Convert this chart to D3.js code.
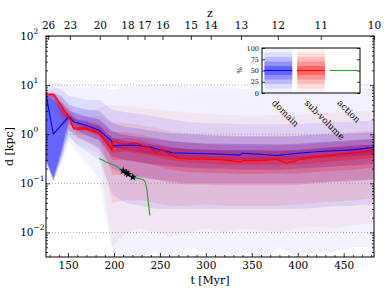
<!DOCTYPE html>
<html>
<head>
<meta charset="utf-8">
<script src="https://cdn.jsdelivr.net/npm/d3@7"></script>
<style>
body { margin: 0; background: #fff; }
svg text { font-family: "DejaVu Serif", serif; fill: #000; }
</style>
</head>
<body>
<div id="chart"></div>
<script>
'use strict';

// time grid of the percentile bands [Myr]
var bandTimes = [126, 134, 143, 151, 160, 170, 184, 198, 213, 228, 245, 262, 280, 300, 320, 340, 360, 380, 400, 420, 440, 460, 483];

// domain percentiles, d [kpc]
var domainP0   = [0.25, 0.1, 0.25, 0.7, 0.4, 0.25, 0.12, 0.004, 0.003, 0.003, 0.004, 0.002, 0.005, 0.004, 0.003, 0.004, 0.003, 0.005, 0.003, 0.004, 0.004, 0.005, 0.005];
var domainP10  = [0.27, 0.11, 0.3, 0.9, 0.6, 0.45, 0.3, 0.06, 0.04, 0.035, 0.03, 0.03, 0.03, 0.03, 0.03, 0.03, 0.03, 0.03, 0.03, 0.032, 0.034, 0.035, 0.038];
var domainP20  = [0.28, 0.115, 0.35, 1.2, 0.9, 0.7, 0.5, 0.2, 0.15, 0.13, 0.12, 0.11, 0.1, 0.1, 0.1, 0.1, 0.1, 0.1, 0.1, 0.105, 0.11, 0.115, 0.12];
var domainP30  = [0.3, 0.12, 0.4, 1.6, 1.2, 0.95, 0.75, 0.35, 0.3, 0.27, 0.24, 0.22, 0.21, 0.2, 0.2, 0.19, 0.19, 0.19, 0.2, 0.21, 0.22, 0.23, 0.25];
var domainP40  = [0.32, 0.13, 0.5, 2.1, 1.5, 1.25, 1.0, 0.55, 0.47, 0.43, 0.38, 0.34, 0.32, 0.31, 0.3, 0.29, 0.29, 0.29, 0.3, 0.32, 0.34, 0.36, 0.38];
var domainP60  = [6.4, 5.0, 3.5, 2.5, 2.0, 1.8, 1.5, 0.85, 0.72, 0.68, 0.6, 0.53, 0.5, 0.49, 0.48, 0.47, 0.47, 0.46, 0.48, 0.52, 0.55, 0.58, 0.62];
var domainP70  = [6.6, 6.0, 4.5, 3.0, 2.6, 2.3, 2.0, 1.15, 0.95, 0.88, 0.8, 0.72, 0.68, 0.65, 0.64, 0.63, 0.63, 0.62, 0.64, 0.68, 0.72, 0.76, 0.8];
var domainP80  = [7.0, 7.0, 6.0, 4.0, 3.5, 3.2, 3.0, 1.7, 1.4, 1.3, 1.15, 1.05, 1.0, 0.95, 0.92, 0.9, 0.9, 0.9, 0.92, 0.97, 1.0, 1.05, 1.1];
var domainP90  = [8.0, 9.0, 8.0, 6.0, 5.5, 5.0, 5.0, 3.2, 2.8, 2.6, 2.3, 2.0, 1.8, 1.7, 1.65, 1.6, 1.6, 1.6, 1.6, 1.7, 1.75, 1.8, 1.9];
var domainP100 = [9, 12, 11, 10, 9, 9, 10, 8, 9, 10, 10, 11, 9, 9, 9, 8.5, 8, 8, 8, 8.5, 9, 8.5, 9];

// sub-volume percentiles, d [kpc]
var subP0   = [5.0, 4.5, 1.6, 0.9, 0.6, 0.55, 0.4, 0.005, 0.01, 0.012, 0.01, 0.008, 0.01, 0.012, 0.01, 0.012, 0.011, 0.01, 0.012, 0.013, 0.012, 0.014, 0.015];
var subP10  = [5.5, 5.0, 1.9, 1.2, 0.8, 0.75, 0.55, 0.04, 0.045, 0.045, 0.04, 0.035, 0.035, 0.037, 0.035, 0.035, 0.035, 0.035, 0.037, 0.04, 0.042, 0.045, 0.05];
var subP20  = [6.0, 5.5, 2.3, 1.6, 1.0, 0.95, 0.75, 0.15, 0.15, 0.14, 0.12, 0.1, 0.095, 0.095, 0.09, 0.09, 0.09, 0.09, 0.092, 0.1, 0.105, 0.11, 0.12];
var subP30  = [6.2, 5.8, 2.6, 1.9, 1.15, 1.15, 0.9, 0.3, 0.3, 0.27, 0.23, 0.19, 0.17, 0.165, 0.16, 0.155, 0.155, 0.16, 0.16, 0.17, 0.18, 0.19, 0.21];
var subP40  = [6.3, 6.1, 2.9, 2.1, 1.28, 1.28, 1.0, 0.42, 0.45, 0.4, 0.35, 0.29, 0.27, 0.25, 0.24, 0.235, 0.235, 0.24, 0.24, 0.26, 0.28, 0.3, 0.33];
var subP60  = [6.6, 6.5, 3.3, 2.3, 1.38, 1.38, 1.12, 0.6, 0.65, 0.6, 0.5, 0.42, 0.38, 0.36, 0.35, 0.34, 0.34, 0.35, 0.35, 0.38, 0.41, 0.44, 0.5];
var subP70  = [6.7, 6.6, 3.7, 2.6, 1.6, 1.6, 1.35, 0.8, 0.85, 0.78, 0.65, 0.55, 0.5, 0.47, 0.45, 0.44, 0.44, 0.45, 0.45, 0.49, 0.53, 0.57, 0.62];
var subP80  = [6.8, 6.8, 4.2, 3.0, 1.9, 1.9, 1.7, 1.1, 1.1, 1.0, 0.85, 0.74, 0.68, 0.63, 0.6, 0.58, 0.58, 0.6, 0.6, 0.64, 0.68, 0.74, 0.8];
var subP90  = [7.0, 7.0, 4.8, 3.5, 2.3, 2.3, 2.3, 1.8, 1.7, 1.55, 1.35, 1.15, 1.05, 0.98, 0.95, 0.92, 0.92, 0.95, 0.95, 1.0, 1.05, 1.12, 1.2];
var subP100 = [7.5, 7.5, 5.5, 4.0, 3.0, 3.0, 3.5, 4.0, 3.8, 3.5, 3.2, 3.0, 2.8, 2.6, 2.5, 2.4, 2.4, 2.5, 2.5, 2.6, 2.8, 2.9, 3.0];

// median lines
var domainLineT = [126, 134, 151, 156, 170, 184, 197, 199, 213, 228, 240, 252, 264, 280, 301, 320, 337, 340, 359, 377, 400, 420, 440, 460, 483];
var domainLineD = [6.4, 1.0, 2.3, 1.8, 1.5, 1.2, 0.74, 0.58, 0.6, 0.59, 0.54, 0.47, 0.42, 0.41, 0.40, 0.39, 0.375, 0.41, 0.39, 0.37, 0.41, 0.44, 0.46, 0.48, 0.54];
var subLineT = [126, 135, 151, 156, 170, 184, 198, 198.5, 213, 222, 239, 246, 252, 270, 301, 320, 337, 340, 359, 377, 388, 413, 440, 456, 483];
var subLineD = [6.5, 6.4, 2.2, 1.34, 1.34, 1.06, 0.49, 0.72, 0.62, 0.67, 0.53, 0.42, 0.49, 0.32, 0.31, 0.30, 0.27, 0.29, 0.29, 0.31, 0.26, 0.34, 0.38, 0.41, 0.47];
var subLine2T = [151, 156, 170, 184, 198];
var subLine2D = [2.2, 1.27, 1.26, 0.99, 0.47];

// action track and stars
var actionT = [184, 192, 203, 210, 214, 220, 228, 232, 234, 235.5, 237, 239];
var actionD = [0.32, 0.27, 0.22, 0.18, 0.16, 0.134, 0.124, 0.117, 0.105, 0.08, 0.048, 0.022];
var starT = [210, 213.5, 215.5, 220.5];
var starD = [0.18, 0.163, 0.153, 0.134];

var pctPairs = [[0, 100], [10, 90], [20, 80], [30, 70], [40, 60]];
var bandAlpha = [0.05, 0.09, 0.15, 0.22, 0.3];

var tTicks = [150, 200, 250, 300, 350, 400, 450];
var zTickLabels = [26, 23, 20, 18, 17, 16, 15, 14, 13, 12, 11, 10];
var zTickTimes = [128.3, 152, 184.6, 214.7, 233.2, 252.8, 283.6, 305.3, 338.2, 378.3, 425.1, 483];
var yMajor = [0.01, 0.1, 1, 10, 100];
var legendNames = ["domain", "sub-volume", "action"];
var legendPct = [0, 25, 50, 75, 100];

var CONFIG = {
    width: 390,
    height: 293,
    plot: { left: 46, right: 374, top: 36, bottom: 257 },
    tDomain: [126, 483],
    dDomain: [Math.pow(10, -2.5), 100],
    inset: { left: 262, right: 360, top: 48, bottom: 93 },
    color: { domain: "#0000ff", sub: "#ff0000", action: "#339933" }
};

var domainPct = { 0: domainP0, 10: domainP10, 20: domainP20, 30: domainP30, 40: domainP40,
    60: domainP60, 70: domainP70, 80: domainP80, 90: domainP90, 100: domainP100 };
var subPct = { 0: subP0, 10: subP10, 20: subP20, 30: subP30, 40: subP40,
    60: subP60, 70: subP70, 80: subP80, 90: subP90, 100: subP100 };

var P = CONFIG.plot;
var svg = d3.select("#chart").append("svg")
    .attr("width", CONFIG.width)
    .attr("height", CONFIG.height);

var x = d3.scaleLinear().domain(CONFIG.tDomain).range([P.left, P.right]);
var y = d3.scaleLog().domain(CONFIG.dDomain).range([P.bottom, P.top]);

svg.append("clipPath").attr("id", "clip")
    .append("rect")
    .attr("x", P.left).attr("y", P.top)
    .attr("width", P.right - P.left).attr("height", P.bottom - P.top);

var plot = svg.append("g").attr("clip-path", "url(#clip)");

// percentile bands
function drawBands(pct, color) {
    var idx = bandTimes.map(function (t, i) { return i; });
    pctPairs.forEach(function (pair, k) {
        var lo = pct[pair[0]], hi = pct[pair[1]];
        var area = d3.area()
            .x(function (i) { return x(bandTimes[i]); })
            .y0(function (i) { return y(lo[i]); })
            .y1(function (i) { return y(hi[i]); });
        plot.append("path")
            .attr("d", area(idx))
            .attr("fill", color)
            .attr("fill-opacity", bandAlpha[k])
            .attr("stroke", "none");
    });
}
drawBands(domainPct, CONFIG.color.domain);
drawBands(subPct, CONFIG.color.sub);

// dotted grid at the decades
plot.selectAll(".grid").data(yMajor).enter().append("line")
    .attr("x1", P.left).attr("x2", P.right)
    .attr("y1", function (d) { return y(d); })
    .attr("y2", function (d) { return y(d); })
    .attr("stroke", "#999")
    .attr("stroke-width", 0.8)
    .attr("stroke-dasharray", "1,2");

function drawLine(ts, ds, color, width, curve) {
    var line = d3.line()
        .x(function (d, i) { return x(ts[i]); })
        .y(function (d) { return y(d); });
    if (curve) line.curve(curve);
    plot.append("path")
        .attr("d", line(ds))
        .attr("fill", "none")
        .attr("stroke", color)
        .attr("stroke-width", width)
        .attr("stroke-linejoin", "round");
}
drawLine(domainLineT, domainLineD, CONFIG.color.domain, 1.1);
drawLine(subLineT, subLineD, CONFIG.color.sub, 1.1);
drawLine(subLine2T, subLine2D, CONFIG.color.sub, 0.9);
drawLine(actionT, actionD, CONFIG.color.action, 1.1, d3.curveMonotoneX);

plot.selectAll(".star").data(starD).enter().append("path")
    .attr("d", d3.symbol().type(d3.symbolStar).size(20))
    .attr("transform", function (d, i) { return "translate(" + x(starT[i]) + "," + y(d) + ")"; })
    .attr("fill", "#000");

// axes: ticks pointing inward
var yMinor = [];
for (var e = -3; e <= 1; e++) {
    for (var m = 2; m <= 9; m++) {
        var v = m * Math.pow(10, e);
        if (v > CONFIG.dDomain[0] && v < CONFIG.dDomain[1]) yMinor.push(v);
    }
}
var tMinor = d3.range(130, 483, 10).filter(function (t) { return t % 50 !== 0; });

function tickAxis(axis, transform) {
    var g = svg.append("g").attr("transform", transform).call(axis);
    g.select(".domain").remove();
    g.selectAll("line").attr("stroke", "#000").attr("stroke-width", 0.8);
    return g;
}
tickAxis(d3.axisLeft(y).tickValues(yMajor).tickSize(-4).tickFormat(""), "translate(" + P.left + ",0)");
tickAxis(d3.axisLeft(y).tickValues(yMinor).tickSize(-2).tickFormat(""), "translate(" + P.left + ",0)");
tickAxis(d3.axisRight(y).tickValues(yMajor).tickSize(-4).tickFormat(""), "translate(" + P.right + ",0)");
tickAxis(d3.axisRight(y).tickValues(yMinor).tickSize(-2).tickFormat(""), "translate(" + P.right + ",0)");
var bottomAxis = tickAxis(d3.axisBottom(x).tickValues(tTicks).tickSize(-4).tickPadding(5), "translate(0," + P.bottom + ")");
tickAxis(d3.axisBottom(x).tickValues(tMinor).tickSize(-2).tickFormat(""), "translate(0," + P.bottom + ")");
var topAxis = tickAxis(d3.axisTop(x).tickValues(zTickTimes).tickSize(-4).tickPadding(7)
    .tickFormat(function (d, i) { return zTickLabels[i]; }), "translate(0," + P.top + ")");
bottomAxis.selectAll("text").style("font-family", "DejaVu Serif").style("font-size", "10.5px");
topAxis.selectAll("text").style("font-family", "DejaVu Serif").style("font-size", "10.5px");

// y tick labels 10^n
var yLabels = svg.append("g");
yMajor.forEach(function (v) {
    var ex = Math.round(Math.log10(v));
    yLabels.append("text")
        .attr("x", 33.5).attr("y", y(v) + 3.8)
        .attr("text-anchor", "end")
        .style("font-size", "10.5px")
        .text("10");
    yLabels.append("text")
        .attr("x", 33.5).attr("y", y(v) - 2.5)
        .style("font-size", "7.5px")
        .text(ex < 0 ? "\u2212" + (-ex) : ex);
});

svg.append("rect")
    .attr("x", P.left).attr("y", P.top)
    .attr("width", P.right - P.left).attr("height", P.bottom - P.top)
    .attr("fill", "none").attr("stroke", "#000").attr("stroke-width", 1);

// axis titles
svg.append("text").attr("x", (P.left + P.right) / 2).attr("y", 284)
    .attr("text-anchor", "middle").style("font-size", "11px").text("t [Myr]");
svg.append("text").attr("x", (P.left + P.right) / 2).attr("y", 17)
    .attr("text-anchor", "middle").style("font-size", "11px").text("z");
svg.append("text")
    .attr("transform", "translate(13," + ((P.top + P.bottom) / 2) + ") rotate(-90)")
    .attr("text-anchor", "middle").style("font-size", "11px").text("d [kpc]");

// inset legend
var I = CONFIG.inset;
var inset = svg.append("g");
inset.append("rect")
    .attr("x", I.left).attr("y", I.top)
    .attr("width", I.right - I.left).attr("height", I.bottom - I.top)
    .attr("fill", "#fff");
var lx = d3.scalePoint().domain(legendNames).range([I.left, I.right]).padding(0.5);
var ly = d3.scaleLinear().domain([0, 100]).range([I.bottom, I.top]);
var colW = lx.step() * 0.85;
var legendColors = [CONFIG.color.domain, CONFIG.color.sub];
legendColors.forEach(function (c, j) {
    var cx = lx(legendNames[j]);
    pctPairs.forEach(function (pair, k) {
        inset.append("rect")
            .attr("x", cx - colW / 2).attr("width", colW)
            .attr("y", ly(pair[1])).attr("height", ly(pair[0]) - ly(pair[1]))
            .attr("fill", c).attr("fill-opacity", bandAlpha[k]);
    });
});
[CONFIG.color.domain, CONFIG.color.sub, CONFIG.color.action].forEach(function (c, j) {
    var cx = lx(legendNames[j]);
    inset.append("line")
        .attr("x1", cx - colW / 2).attr("x2", cx + colW / 2)
        .attr("y1", ly(50)).attr("y2", ly(50))
        .attr("stroke", c).attr("stroke-width", 1.1);
});
var il = tickAxis(d3.axisLeft(ly).tickValues(legendPct).tickSize(-3).tickPadding(3), "translate(" + I.left + ",0)");
il.selectAll("text").style("font-family", "DejaVu Serif").style("font-size", "6.5px");
tickAxis(d3.axisRight(ly).tickValues(legendPct).tickSize(-3).tickFormat(""), "translate(" + I.right + ",0)");
inset.append("rect")
    .attr("x", I.left).attr("y", I.top)
    .attr("width", I.right - I.left).attr("height", I.bottom - I.top)
    .attr("fill", "none").attr("stroke", "#000").attr("stroke-width", 1);
svg.append("text")
    .attr("transform", "translate(242," + ((I.top + I.bottom) / 2) + ") rotate(-90)")
    .attr("text-anchor", "middle").style("font-size", "7px").text("%");
legendNames.forEach(function (name) {
    svg.append("text")
        .attr("transform", "translate(" + (lx(name) - 2.5) + "," + (I.bottom + 6) + ") rotate(45)")
        .attr("dominant-baseline", "hanging")
        .style("font-size", "9px")
        .text(name);
});
</script>
</body>
</html>
